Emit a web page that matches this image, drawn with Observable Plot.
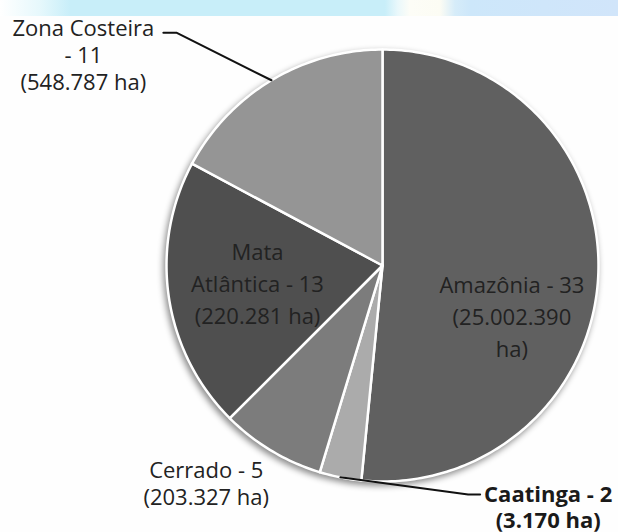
<!DOCTYPE html>
<html>
<head>
<meta charset="utf-8">
<script src="https://cdn.jsdelivr.net/npm/d3@7"></script>
<script src="https://cdn.jsdelivr.net/npm/@observablehq/plot@0.6"></script>
<style>
  html, body { margin: 0; padding: 0; background: #fefefe; }
  #wrap { position: relative; width: 618px; height: 532px; overflow: hidden; }
  #band { position: absolute; left: 0; top: 0; width: 618px; height: 16px;
    background: linear-gradient(90deg, #ffffff 0px, #e6f8fc 40px, #c8eef9 70px, #c8eef9 385px, #eaf8fb 398px, #fdfdf7 410px, #fcfcf4 440px, #d6ecf9 455px, #cde7fa 470px, #d1e5fa 618px);
    z-index: 2; }
</style>
</head>
<body>
<div id="wrap"><div id="band"></div></div>
<script>
// ---- data ----
const names  = ["Amazônia", "Caatinga", "Cerrado", "Mata Atlântica", "Zona Costeira"];
const counts = [33, 2, 5, 13, 11];
const areas  = ["25.002.390", "3.170", "203.327", "220.281", "548.787"];
const labelTexts = [
  "Amazônia - 33\n(25.002.390\nha)",
  "Caatinga - 2\n(3.170 ha)",
  "Cerrado - 5\n(203.327 ha)",
  "Mata\nAtlântica - 13\n(220.281 ha)",
  "Zona Costeira\n- 11\n(548.787 ha)"
];
const grays = ["#606060", "#ababab", "#7c7c7c", "#4f4f4f", "#959595"];

// ---- layout ----
const W = 618, H = 532, cx = 382, cy = 265, R = 216;
const labelLayout = {
  "Amazônia":       {k: 0.6,  dx: 0,    dy: 43},
  "Caatinga":       {k: 1.1,  dx: 212,  dy: 8},
  "Cerrado":        {k: 1.2,  dx: -43,  dy: -5},
  "Mata Atlântica": {k: 0.585,dx: 0,    dy: -2},
  "Zona Costeira":  {k: 1.1,  dx: -177, dy: -7}
};
const leaderElbows = {
  "Zona Costeira": [[93, -22], [80, -22]],
  "Caatinga":      [[-80, -12], [-68, -12]]
};

const pt = (a, r) => ({x: cx + r * Math.sin(a), y: cy - r * Math.cos(a)});
const arcs = d3.pie().sort(null).value(d => d)(counts);

const poly = [];
arcs.forEach((a, i) => {
  poly.push({name: names[i], ...pt(0, 0)});
  const n = Math.max(2, Math.ceil((a.endAngle - a.startAngle) / (Math.PI / 180)));
  for (let j = 0; j <= n; j++) {
    const t = a.startAngle + (a.endAngle - a.startAngle) * j / n;
    poly.push({name: names[i], ...pt(t, R)});
  }
});

const labels = arcs.map((a, i) => {
  const mid = (a.startAngle + a.endAngle) / 2;
  const L = labelLayout[names[i]];
  const p = pt(mid, R * L.k);
  return {name: names[i], text: labelTexts[i], x: p.x + L.dx, y: p.y + L.dy, mid};
});

const leaders = [];
labels.forEach(l => {
  const e = leaderElbows[l.name];
  if (!e) return;
  const s = pt(l.mid, R);
  leaders.push({name: l.name, x: s.x, y: s.y});
  e.forEach(([ex, ey]) => leaders.push({name: l.name, x: l.x + ex, y: l.y + ey}));
});

const insideNames = ["Amazônia", "Mata Atlântica"];

const plot = Plot.plot({
  width: W, height: H,
  margin: 0,
  style: {fontFamily: "'Open Sans', sans-serif", background: "transparent", overflow: "visible"},
  x: {domain: [0, W], range: [0, W], axis: null},
  y: {domain: [0, H], range: [0, H], axis: null},
  color: {domain: names, range: grays},
  marks: [
    Plot.line(poly, {x: "x", y: "y", z: "name", fill: "name", stroke: "white", strokeWidth: 2.5, strokeLinejoin: "round", curve: "linear-closed"}),
    Plot.line(leaders, {x: "x", y: "y", z: "name", stroke: "#111", strokeWidth: 2}),
    Plot.text(labels.filter(d => insideNames.includes(d.name)), {x: "x", y: "y", text: "text", fontSize: 22, lineHeight: 1.45, fill: "#222"}),
    Plot.text(labels.filter(d => !insideNames.includes(d.name) && d.name !== "Caatinga"), {x: "x", y: "y", text: "text", fontSize: 22, lineHeight: 1.22, fill: "#222"}),
    Plot.text(labels.filter(d => d.name === "Caatinga"), {x: "x", y: "y", text: "text", fontSize: 22, lineHeight: 1.18, fill: "#1a1a1a", fontWeight: "bold"})
  ]
});
const g = plot.querySelector('g[aria-label="line"]');
if (g) g.style.filter = "drop-shadow(-2px 3px 3px rgba(0,0,0,0.45))";
document.getElementById("wrap").appendChild(plot);
</script>
</body>
</html>
